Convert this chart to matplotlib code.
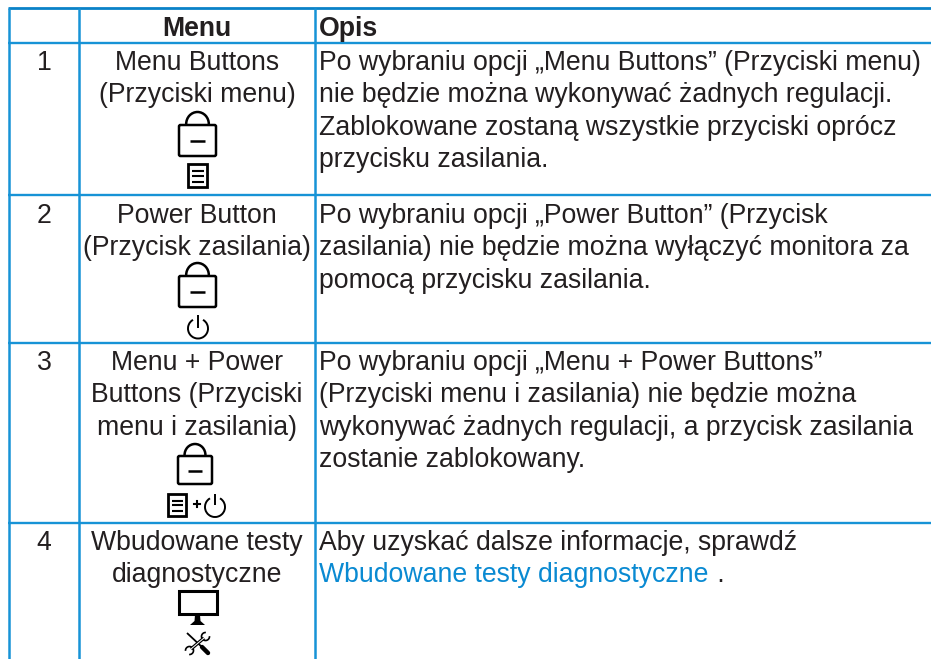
import matplotlib
matplotlib.use("Agg")
import matplotlib.pyplot as plt
from matplotlib.patches import Rectangle, Arc, Polygon, FancyBboxPatch

plt.rcParams['font.family'] = ['Liberation Sans', 'DejaVu Sans']

headers = ["Menu", "Opis"]
numbers = ["1", "2", "3", "4"]
menu_lines = [
    ["Menu Buttons", "(Przyciski menu)"],
    ["Power Button", "(Przycisk zasilania)"],
    ["Menu + Power", "Buttons (Przyciski", "menu i zasilania)"],
    ["Wbudowane testy", "diagnostyczne"],
]
desc_lines = [
    ["Po wybraniu opcji „Menu Buttons” (Przyciski menu)",
     "nie będzie można wykonywać żadnych regulacji.",
     "Zablokowane zostaną wszystkie przyciski oprócz",
     "przycisku zasilania."],
    ["Po wybraniu opcji „Power Button” (Przycisk",
     "zasilania) nie będzie można wyłączyć monitora za",
     "pomocą przycisku zasilania."],
    ["Po wybraniu opcji „Menu + Power Buttons”",
     "(Przyciski menu i zasilania) nie będzie można",
     "wykonywać żadnych regulacji, a przycisk zasilania",
     "zostanie zablokowany."],
    ["Aby uzyskać dalsze informacje, sprawdź"],
]
link_text = "Wbudowane testy diagnostyczne"
link_tail = " ."

row_lines = [8, 43, 195, 343, 523]
col_lines = [9, 79, 315]
row_first_baseline = [70, 223, 370, 550]
line_step = 32.4

TEXT = "#231f20"
RULE = "#1793d6"
RULE_TOP = "#0a82c8"
LINK = "#0a8ad2"
FS = 19.15
XD = 319.2

fig = plt.figure(figsize=(9.31, 6.59), dpi=100)
ax = fig.add_axes([0, 0, 1, 1])
ax.set_xlim(0, 931)
ax.set_ylim(659, 0)
ax.axis("off")

# table rules
ax.hlines(row_lines[0], col_lines[0] - 1, 931, color=RULE_TOP, lw=2.0)
ax.hlines(row_lines[1:], col_lines[0] - 1, 931, color=RULE, lw=1.7)
ax.vlines(col_lines, row_lines[0], 659, color=RULE, lw=1.8)

# header
ax.text(197, 36, headers[0], ha="center", va="baseline", fontsize=FS, fontweight="bold", color=TEXT)
ax.text(XD, 36, headers[1], ha="left", va="baseline", fontsize=FS, fontweight="bold", color=TEXT)

# rows
for i, base in enumerate(row_first_baseline):
    ax.text(44, base, numbers[i], ha="center", va="baseline", fontsize=FS, color=TEXT)
    for j, s in enumerate(menu_lines[i]):
        ax.text(197, base + j * line_step, s, ha="center", va="baseline", fontsize=FS, color=TEXT)
    for j, s in enumerate(desc_lines[i]):
        ax.text(XD, base + j * line_step, s, ha="left", va="baseline", fontsize=FS, color=TEXT)

link = ax.text(XD, row_first_baseline[3] + line_step, link_text, ha="left", va="baseline", fontsize=FS, color=LINK)
fig.canvas.draw()
bb = link.get_window_extent()
ax.text(bb.x1 + 1, row_first_baseline[3] + line_step, link_tail, ha="left", va="baseline", fontsize=FS, color=TEXT)

ICON = "#000000"


def lock(x0, x1, y_shackle, y0, y1):
    w = x1 - x0
    h = y1 - y0
    ax.add_patch(FancyBboxPatch((x0 + 1, y0 + 1), w - 2, h - 2, boxstyle="round,pad=0,rounding_size=1.5",
                                fc="white", ec=ICON, lw=1.8))
    sw = w * 0.58
    cx = (x0 + x1) / 2
    sh = y0 - y_shackle - 1
    ax.add_patch(Arc((cx, y0), sw, 2 * sh, theta1=180, theta2=360, ec=ICON, lw=1.8))
    ax.plot([cx - w * 0.19, cx + w * 0.19], [(y0 + y1) / 2 + 0.5] * 2, color=ICON, lw=1.8, solid_capstyle="butt")


def menu_icon(x0, x1, y0, y1):
    ax.add_patch(Rectangle((x0 + 1.3, y0 + 1.3), x1 - x0 - 2.6, y1 - y0 - 2.6, fc="white", ec=ICON, lw=2.0))
    for f in (0.32, 0.52, 0.74):
        ax.plot([x0 + 4.5, x1 - 4.5], [y0 + f * (y1 - y0)] * 2, color=ICON, lw=1.5, solid_capstyle="butt")


def power_icon(cx, cy, r, ytop, ybot):
    ax.add_patch(Arc((cx, cy), 2 * r, 2 * r, theta1=-60, theta2=240, ec=ICON, lw=1.4))
    ax.plot([cx, cx], [ytop, ybot], color=ICON, lw=1.4, solid_capstyle="butt")


def monitor(x0, x1, y0, y1):
    ax.add_patch(Rectangle((x0 + 1.5, y0 + 1.5), x1 - x0 - 3, y1 - y0 - 3, fc="white", ec=ICON, lw=2.2))
    cx = (x0 + x1) / 2
    ax.add_patch(Polygon([(cx - 2.5, y1), (cx + 2.5, y1), (cx + 3, y1 + 6), (cx + 7.5, y1 + 10),
                          (cx - 7.5, y1 + 10), (cx - 3, y1 + 6)], fc=ICON, ec="none"))


def tools(x0, x1, y0, y1):
    # screwdriver: upper-left to lower-right
    ax.plot([x0 + 2, x1 - 7], [y0 + 1, y1 - 7], color=ICON, lw=1.3, solid_capstyle="butt")
    ax.plot([x1 - 8, x1 - 2], [y1 - 8, y1 - 2], color=ICON, lw=3.2, solid_capstyle="round")
    # wrench: upper-right to lower-left
    ax.plot([x1 - 6, x0 + 6], [y0 + 6, y1 - 6], color=ICON, lw=2.4, solid_capstyle="butt")
    ax.plot([x1 - 6, x0 + 6], [y0 + 6, y1 - 6], color="white", lw=0.7, solid_capstyle="butt")
    ax.add_patch(Arc((x1 - 4.5, y0 + 4.5), 8, 8, theta1=40, theta2=320, angle=-45, ec=ICON, lw=1.2))
    ax.add_patch(Arc((x0 + 4.5, y1 - 4.5), 8, 8, theta1=220, theta2=500, angle=-45, ec=ICON, lw=1.2))


lock(178, 217, 111, 124, 157)
menu_icon(187, 208, 163, 188)

lock(178, 217, 262, 275, 308)
power_icon(198, 328.5, 10, 315, 328)

lock(177, 213, 443, 455, 485)
menu_icon(167, 187, 493, 517)
ax.plot([194, 200], [504, 504], color=ICON, lw=1.5)
ax.plot([197, 197], [501, 507], color=ICON, lw=1.5)
power_icon(215, 507, 10, 494, 505)

monitor(177, 218, 589, 615)
tools(185, 210, 632, 655)

fig.savefig("out.png", dpi=100)
